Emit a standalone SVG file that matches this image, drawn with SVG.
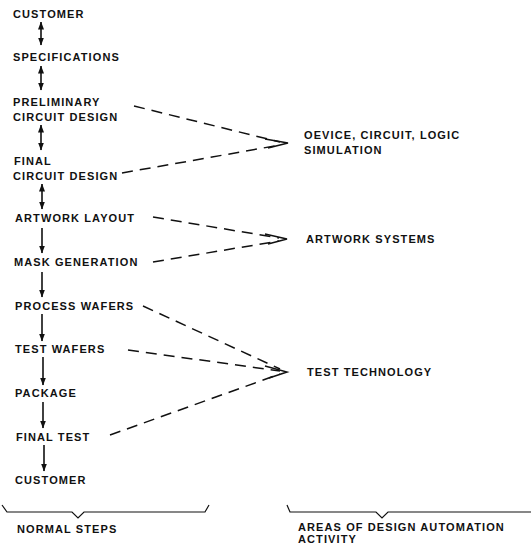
<svg xmlns="http://www.w3.org/2000/svg" width="531" height="549" viewBox="0 0 531 549">
<defs>
<style>
text{font-family:"Liberation Sans",Arial,sans-serif;font-size:11px;font-weight:bold;letter-spacing:1.1px;fill:#111}
.a{stroke:#111;stroke-width:1.6;fill:none}
.d{stroke:#111;stroke-width:1.5;fill:none;stroke-dasharray:11 7}
.h{stroke:#111;stroke-width:1.5;fill:none}
.b{stroke:#111;stroke-width:1.2;fill:none}
</style>
<marker id="ah" markerWidth="8" markerHeight="9" refX="7.5" refY="4.5" orient="auto-start-reverse" markerUnits="userSpaceOnUse">
<path d="M0,1.5 L8,4.5 L0,7.5 Z" fill="#111"/>
</marker>
</defs>
<rect width="531" height="549" fill="#fff"/>
<g id="n-customer1"><text x="13" y="18">CUSTOMER</text></g>
<g id="n-specifications"><text x="13" y="61">SPECIFICATIONS</text></g>
<g id="n-preliminary"><text x="13" y="106">PRELIMINARY</text><text x="13" y="121">CIRCUIT DESIGN</text></g>
<g id="n-final-circuit"><text x="14" y="165">FINAL</text><text x="13" y="180">CIRCUIT DESIGN</text></g>
<g id="n-artwork-layout"><text x="15" y="222">ARTWORK LAYOUT</text></g>
<g id="n-mask-generation"><text x="14" y="266">MASK GENERATION</text></g>
<g id="n-process-wafers"><text x="15" y="310">PROCESS WAFERS</text></g>
<g id="n-test-wafers"><text x="15" y="353">TEST WAFERS</text></g>
<g id="n-package"><text x="15" y="397">PACKAGE</text></g>
<g id="n-final-test"><text x="16" y="441">FINAL TEST</text></g>
<g id="n-customer2"><text x="15" y="484">CUSTOMER</text></g>
<g id="n-device-sim"><text x="304" y="139">OEVICE, CIRCUIT, LOGIC</text><text x="304" y="154">SIMULATION</text></g>
<g id="n-artwork-systems"><text x="306" y="243">ARTWORK SYSTEMS</text></g>
<g id="n-test-technology"><text x="307" y="376">TEST TECHNOLOGY</text></g>
<g id="n-normal-steps"><path class="b" d="M2,505 L7,512 L72,512 L78,518 L84,512 L205,512 L209,505"/><text x="17" y="533">NORMAL STEPS</text></g>
<g id="n-areas"><path class="b" d="M287,505 L290,512 L376,512 L382,518 L388,512 L531,512"/><text x="298" y="531">AREAS OF DESIGN AUTOMATION</text><text x="298" y="543">ACTIVITY</text></g>
<g id="connectors">
<line class="a" x1="41" y1="22" x2="41" y2="45" marker-start="url(#ah)" marker-end="url(#ah)"/>
<line class="a" x1="41" y1="66" x2="41" y2="90" marker-start="url(#ah)" marker-end="url(#ah)"/>
<line class="a" x1="41" y1="125" x2="41" y2="150" marker-start="url(#ah)" marker-end="url(#ah)"/>
<line class="a" x1="42" y1="184" x2="42" y2="209" marker-start="url(#ah)" marker-end="url(#ah)"/>
<line class="a" x1="42" y1="228" x2="42" y2="253" marker-end="url(#ah)"/>
<line class="a" x1="42" y1="272" x2="42" y2="297" marker-end="url(#ah)"/>
<line class="a" x1="42" y1="314" x2="42" y2="341" marker-end="url(#ah)"/>
<line class="a" x1="43" y1="357" x2="43" y2="385" marker-end="url(#ah)"/>
<line class="a" x1="43" y1="402" x2="43" y2="428" marker-end="url(#ah)"/>
<line class="a" x1="44" y1="445" x2="44" y2="471" marker-end="url(#ah)"/>
<line class="d" x1="134" y1="106" x2="280" y2="142"/>
<line class="d" x1="122" y1="173" x2="280" y2="145"/>
<path class="h" d="M265,139 L288,143 L268,148"/>
<line class="d" x1="153" y1="217" x2="279" y2="238"/>
<line class="d" x1="153" y1="262" x2="279" y2="241"/>
<path class="h" d="M265,234 L287,239 L268,244"/>
<line class="d" x1="143" y1="306" x2="280" y2="369"/>
<line class="d" x1="128" y1="350" x2="280" y2="371"/>
<line class="d" x1="110" y1="435" x2="280" y2="374"/>
<path class="h" d="M265,366 L287,372 L269,378"/>
</g>
</svg>
